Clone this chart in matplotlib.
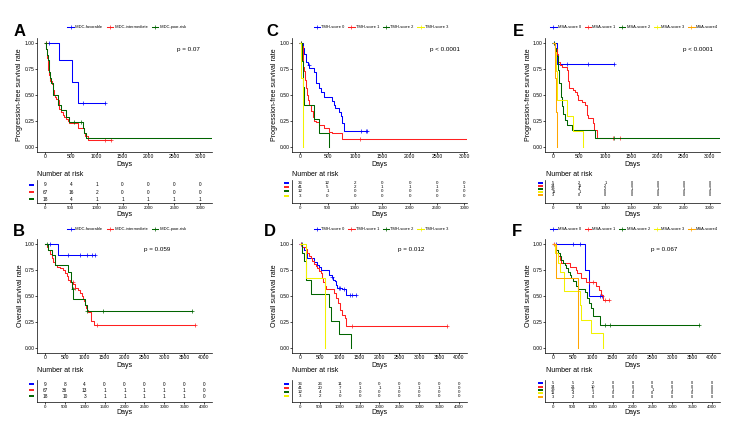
import numpy as np
import matplotlib
matplotlib.use("Agg")
import matplotlib.pyplot as plt
from matplotlib.lines import Line2D

# ---------------- data ----------------
imdc_labels = ["IMDC-favorable", "IMDC-intermediate", "IMDC-poor-risk"]
tmh_labels = ["TMH-score 0", "TMH-score 1", "TMH-score 2", "TMH-score 3"]
msa_labels = ["MSA-score 0", "MSA-score 1", "MSA-score 2", "MSA-score 3", "MSA-score4"]
pvals = ["p = 0.07", "p = 0.059", "p < 0.0001", "p = 0.012", "p < 0.0001", "p = 0.067"]
ticks_pfs = [0, 500, 1000, 1500, 2000, 2500, 3000]
ticks_os = [0, 500, 1000, 1500, 2000, 2500, 3000, 3500, 4000]
yticks = [0.0, 0.25, 0.5, 0.75, 1.0]
ytick_labels = ["0.00", "0.25", "0.50", "0.75", "1.00"]

# Panel A (PFS, IMDC)
a_fav_t = [0, 278, 517, 640]
a_fav_s = [1.0, 0.833, 0.625, 0.417]
a_fav_end, a_fav_cens = 1156, [84, 743, 1156]
a_int_t = [0, 19, 39, 65, 84, 103, 129, 149, 168, 194, 213, 245, 265, 278, 310, 342, 375, 407, 439, 472, 633, 749, 782, 827]
a_int_s = [1, 0.94, 0.86, 0.74, 0.69, 0.63, 0.60, 0.55, 0.50, 0.48, 0.46, 0.45, 0.39, 0.36, 0.33, 0.31, 0.29, 0.27, 0.25, 0.23, 0.18, 0.13, 0.10, 0.065]
a_int_end, a_int_cens = 1279, [10, 1156, 1279]
a_poor_t = [0, 15, 30, 50, 70, 90, 110, 150, 245, 310, 407, 470, 730, 760, 795]
a_poor_s = [1, 0.944, 0.889, 0.833, 0.722, 0.667, 0.611, 0.50, 0.40, 0.35, 0.29, 0.235, 0.18, 0.13, 0.08]
a_poor_end, a_poor_cens = 3300, [10, 560, 690]
a_risk = [[9, 4, 1, 0, 0, 0, 0], [67, 16, 2, 0, 0, 0, 0], [18, 4, 1, 1, 1, 1, 1]]

# Panel B (OS, IMDC)
b_fav_t = [0, 336]
b_fav_s = [1.0, 0.889]
b_fav_end, b_fav_cens = 1260, [126, 588, 882, 1067, 1176, 1260]
b_int_t = [0, 42, 84, 126, 168, 210, 252, 294, 380, 462, 504, 546, 588, 630, 714, 756, 840, 882, 924, 949, 983, 1008, 1033, 1067, 1092, 1151, 1243]
b_int_s = [1, 0.97, 0.94, 0.90, 0.86, 0.83, 0.80, 0.78, 0.765, 0.75, 0.72, 0.69, 0.65, 0.63, 0.61, 0.58, 0.56, 0.53, 0.50, 0.47, 0.45, 0.41, 0.38, 0.36, 0.34, 0.26, 0.22]
b_int_end, b_int_cens = 3780, [700, 760, 1300, 3780]
b_poor_t = [0, 84, 168, 260, 588, 647, 680, 710, 1008, 1050]
b_poor_s = [1, 0.944, 0.889, 0.80, 0.73, 0.63, 0.57, 0.47, 0.41, 0.354]
b_poor_end, b_poor_cens = 3700, [40, 700, 1050, 1470, 3700]
b_risk = [[9, 8, 4, 0, 0, 0, 0, 0, 0], [67, 36, 13, 1, 1, 1, 1, 1, 0], [18, 10, 3, 1, 1, 1, 1, 1, 0]]

# Panel C (PFS, TMH)
c_s0_t = [0, 42, 73, 103, 134, 164, 255, 285, 346, 376, 437, 589, 619, 637, 710, 740, 771, 801]
c_s0_s = [1, 0.95, 0.89, 0.82, 0.79, 0.76, 0.72, 0.61, 0.565, 0.53, 0.48, 0.44, 0.40, 0.37, 0.33, 0.30, 0.23, 0.155]
c_s0_end, c_s0_cens = 1226, [160, 1105, 1196, 1226]
c_s1_t = [0, 30, 42, 55, 73, 91, 109, 127, 146, 164, 194, 225, 255, 285, 346, 437, 528, 589, 771]
c_s1_s = [1, 0.97, 0.85, 0.77, 0.73, 0.645, 0.565, 0.50, 0.45, 0.40, 0.34, 0.29, 0.25, 0.24, 0.21, 0.18, 0.145, 0.13, 0.07]
c_s1_end, c_s1_cens = 3100, [20, 1093]
c_s2_t = [0, 40, 60, 73, 255, 346, 528]
c_s2_s = [1, 0.83, 0.58, 0.40, 0.27, 0.135, 0.0]
c_s2_end, c_s2_cens = 528, [10]
c_s3_t = [0, 15, 55]
c_s3_s = [1, 0.667, 0.0]
c_s3_end, c_s3_cens = 55, []
c_risk = [[36, 12, 2, 0, 0, 0, 0], [41, 5, 2, 1, 1, 1, 1], [12, 1, 0, 0, 0, 0, 0], [3, 0, 0, 0, 0, 0, 0]]

# Panel D (OS, TMH)
d_s0_t = [0, 59, 101, 143, 185, 352, 436, 478, 520, 730, 797, 831, 881, 915, 940, 1066, 1149, 1166]
d_s0_s = [1, 0.97, 0.944, 0.917, 0.86, 0.83, 0.80, 0.78, 0.75, 0.70, 0.685, 0.65, 0.64, 0.605, 0.58, 0.565, 0.54, 0.51]
d_s0_end, d_s0_cens = 1401, [30, 800, 980, 1000, 1100, 1250, 1300, 1401]
d_s1_t = [0, 59, 143, 185, 227, 268, 310, 352, 394, 436, 478, 520, 562, 587, 621, 646, 856, 898, 965, 1007, 1066, 1124, 1149]
d_s1_s = [1, 0.975, 0.95, 0.91, 0.885, 0.86, 0.835, 0.81, 0.79, 0.765, 0.74, 0.72, 0.675, 0.63, 0.59, 0.57, 0.525, 0.475, 0.43, 0.365, 0.315, 0.285, 0.21]
d_s1_end, d_s1_cens = 3708, [30, 1300, 3708]
d_s2_t = [0, 59, 101, 143, 268, 730, 780, 980, 1275]
d_s2_s = [1, 0.917, 0.833, 0.65, 0.52, 0.39, 0.26, 0.13, 0.0]
d_s2_end, d_s2_cens = 1275, [40]
d_s3_t = [0, 143, 629]
d_s3_s = [1, 0.667, 0.0]
d_s3_end, d_s3_cens = 629, []
d_risk = [[36, 26, 11, 0, 0, 0, 0, 0, 0], [41, 20, 7, 1, 1, 1, 1, 1, 0], [12, 4, 1, 0, 0, 0, 0, 0, 0], [3, 2, 0, 0, 0, 0, 0, 0, 0]]

# Panel E (PFS, MSA)
e_s0_t = [0, 64]
e_s0_s = [1, 0.8]
e_s0_end, e_s0_cens = 1161, [20, 255, 670, 1161]
e_s1_t = [0, 30, 64, 96, 128, 160, 255, 268, 287, 306, 370, 415, 459, 478, 542, 606, 638, 670, 753, 778, 842]
e_s1_s = [1, 0.94, 0.89, 0.82, 0.79, 0.77, 0.76, 0.74, 0.63, 0.57, 0.55, 0.53, 0.50, 0.45, 0.43, 0.40, 0.31, 0.28, 0.23, 0.16, 0.08]
e_s1_end, e_s1_cens = 1276, [1150, 1276]
e_s2_t = [0, 32, 51, 83, 108, 140, 172, 191, 223, 255, 351, 798]
e_s2_s = [1, 0.95, 0.87, 0.74, 0.61, 0.48, 0.39, 0.32, 0.26, 0.21, 0.16, 0.08]
e_s2_end, e_s2_cens = 3300, [10, 1161]
e_s3_t = [0, 30, 51, 77, 255, 383, 574]
e_s3_s = [1, 0.91, 0.73, 0.45, 0.30, 0.15, 0.0]
e_s3_end, e_s3_cens = 574, []
e_s4_t = [0, 40, 55, 70]
e_s4_s = [1, 0.667, 0.333, 0.0]
e_s4_end, e_s4_cens = 70, []
e_risk = [[5, 2, 1, 0, 0, 0, 0], [34, 11, 2, 0, 0, 0, 0], [39, 4, 2, 1, 1, 1, 1], [11, 1, 0, 0, 0, 0, 0], [3, 0, 0, 0, 0, 0, 0]]

# Panel F (OS, MSA)
f_s0_t = [0, 795, 904]
f_s0_s = [1, 0.75, 0.50]
f_s0_end, f_s0_cens = 1239, [84, 500, 670, 1172, 1239]
f_s1_t = [0, 42, 84, 126, 167, 209, 419, 569, 603, 711, 837, 1088, 1155, 1214, 1256]
f_s1_s = [1, 0.97, 0.94, 0.88, 0.845, 0.82, 0.78, 0.75, 0.72, 0.675, 0.63, 0.59, 0.555, 0.51, 0.46]
f_s1_end, f_s1_cens = 1406, [20, 900, 1000, 1300, 1406]
f_s2_t = [0, 42, 84, 126, 167, 209, 251, 293, 335, 377, 419, 460, 502, 569, 628, 795, 854, 904, 963, 1004, 1172]
f_s2_s = [1, 0.98, 0.94, 0.91, 0.88, 0.85, 0.82, 0.80, 0.77, 0.73, 0.70, 0.67, 0.64, 0.59, 0.57, 0.54, 0.48, 0.43, 0.38, 0.305, 0.22]
f_s2_end, f_s2_cens = 3683, [1297, 1423, 3683]
f_s3_t = [0, 50, 126, 184, 268, 670, 711, 963, 1255]
f_s3_s = [1, 0.91, 0.82, 0.727, 0.545, 0.41, 0.27, 0.14, 0.0]
f_s3_end, f_s3_cens = 1255, []
f_s4_t = [0, 84, 628]
f_s4_s = [1, 0.667, 0.0]
f_s4_end, f_s4_cens = 628, []
f_risk = [[5, 5, 2, 0, 0, 0, 0, 0, 0], [34, 21, 10, 0, 0, 0, 0, 0, 0], [39, 17, 5, 1, 1, 1, 1, 1, 0], [11, 4, 1, 0, 0, 0, 0, 0, 0], [3, 2, 0, 0, 0, 0, 0, 0, 0]]

# ---------------- style ----------------
COLORS = ["#0000FF", "#FF2020", "#006400", "#F2F200", "#FFA500"]
W, H = 738, 440
plt.rcParams['font.family'] = ['Liberation Sans', 'DejaVu Sans']
TICK_FS = 3.6
fig = plt.figure(figsize=(W / 100, H / 100), dpi=100)


def frect(l, t, r, b):
    return [l / W, 1 - b / H, (r - l) / W, (b - t) / H]


def fx(px):
    return px / W


def fy(py):
    return 1 - py / H


def surv_at(t, s, x):
    idx = np.searchsorted(np.array(t), np.array(x), side='right') - 1
    return np.array(s)[idx]


def style_axis(ax, fs=TICK_FS):
    for sp in ['top', 'right']:
        ax.spines[sp].set_visible(False)
    for sp in ['left', 'bottom']:
        ax.spines[sp].set_linewidth(0.5)
    ax.tick_params(length=1.2, width=0.5, labelsize=fs, pad=0.6)


def km_panel(box, curves, labels, xlim, xticks, ylabel, pval, pxy, letter, lxy, legend_xy):
    l, t, r, b = box
    ax = fig.add_axes(frect(l, t, r, b))
    for (tt, ss, end, cens), c in zip(curves, COLORS):
        xs = list(tt) + [end]
        ys = list(ss) + [ss[-1]]
        ax.step(xs, ys, where='post', color=c, lw=0.75)
        if cens:
            ax.plot(cens, surv_at(tt, ss, cens), ls='none', marker='+', ms=3, mew=0.5, color=c)
    ax.set_xlim(*xlim)
    ax.set_ylim(-0.05, 1.05)
    ax.set_xticks(xticks)
    ax.set_xticklabels([str(v) for v in xticks])
    ax.set_yticks(yticks)
    ax.set_yticklabels(ytick_labels)
    style_axis(ax)
    ax.set_xlabel("Days", fontsize=5)
    ax.xaxis.set_label_coords(0.5, -12.5 / (b - t))
    ax.xaxis.label.set_va('center')
    ax.set_ylabel(ylabel, fontsize=5)
    ax.yaxis.set_label_coords(-17 / (r - l), 0.5)
    ax.yaxis.label.set_va('center')
    fig.text(fx(pxy[0]), fy(pxy[1]), pval, fontsize=4.5, ha='center', va='center')
    fig.text(fx(lxy[0]), fy(lxy[1]), letter, fontsize=12, fontweight='bold', ha='center', va='center')
    handles = [Line2D([], [], color=c, lw=0.75, marker='+', ms=3, mew=0.5) for c in COLORS[:len(labels)]]
    fig.legend(handles, labels, loc='center', bbox_to_anchor=(fx(legend_xy[0]), fy(legend_xy[1])),
               ncol=len(labels), fontsize=2.9, frameon=False, handlelength=1.6, handletextpad=0.3,
               columnspacing=0.9, borderpad=0, borderaxespad=0)
    return ax


def risk_table(box, risk, xlim, xticks, rows_y, bar_x, title_xy, fs):
    l, t, r, b = box
    ax = fig.add_axes(frect(l, t, r, b))
    ax.set_xlim(*xlim)
    ax.set_ylim(b, t)
    ax.set_xticks(xticks)
    ax.set_xticklabels([str(v) for v in xticks])
    ax.set_yticks([])
    style_axis(ax, fs=3.2)
    for vals, ry, c in zip(risk, rows_y, COLORS):
        for xv, n in zip(xticks, vals):
            ax.text(xv, ry, str(n), fontsize=fs, ha='center', va='center')
        fig.add_artist(Line2D([fx(bar_x[0]), fx(bar_x[1])], [fy(ry), fy(ry)],
                              transform=fig.transFigure, color=c, lw=1.4, solid_capstyle='butt'))
    ax.set_xlabel("Days", fontsize=5)
    ax.xaxis.set_label_coords(0.5, -10.5 / (b - t))
    ax.xaxis.label.set_va('center')
    fig.text(fx(title_xy[0]), fy(title_xy[1]), "Number at risk", fontsize=5, ha='left', va='center')
    return ax


PFS = "Progression-free survival rate"
OS = "Overall survival rate"

# A
km_panel((37, 37.8, 212, 151.9),
         [(a_fav_t, a_fav_s, a_fav_end, a_fav_cens), (a_int_t, a_int_s, a_int_end, a_int_cens),
          (a_poor_t, a_poor_s, a_poor_end, a_poor_cens)],
         imdc_labels, (-155, 3230), ticks_pfs, PFS, pvals[0], (188, 49), "A", (20, 31), (127, 27))
risk_table((37, 180, 212, 203.5), a_risk, (-155, 3230), ticks_pfs, [184.7, 192.3, 199], (29.3, 34.3), (37, 174), 3.4)

# B
km_panel((37, 238.8, 212, 352.8),
         [(b_fav_t, b_fav_s, b_fav_end, b_fav_cens), (b_int_t, b_int_s, b_int_end, b_int_cens),
          (b_poor_t, b_poor_s, b_poor_end, b_poor_cens)],
         imdc_labels, (-200, 4200), ticks_os, OS, pvals[1], (157, 249), "B", (19, 232), (127, 229))
risk_table((37, 380, 212, 402), b_risk, (-200, 4200), ticks_os, [384, 390, 396], (29.3, 34.3), (37, 371), 3.4)

# C
km_panel((292, 37.8, 467, 151.9),
         [(c_s0_t, c_s0_s, c_s0_end, c_s0_cens), (c_s1_t, c_s1_s, c_s1_end, c_s1_cens),
          (c_s2_t, c_s2_s, c_s2_end, c_s2_cens), (c_s3_t, c_s3_s, c_s3_end, c_s3_cens)],
         tmh_labels, (-150, 3050), ticks_pfs, PFS, pvals[2], (445, 49), "C", (272, 31), (381, 27))
risk_table((292, 180, 467, 203.5), c_risk, (-150, 3050), ticks_pfs, [183.3, 187.3, 191.3, 195.7], (284, 288.5), (292, 174), 3.2)

# D
km_panel((292, 238.8, 467, 352.8),
         [(d_s0_t, d_s0_s, d_s0_end, d_s0_cens), (d_s1_t, d_s1_s, d_s1_end, d_s1_cens),
          (d_s2_t, d_s2_s, d_s2_end, d_s2_cens), (d_s3_t, d_s3_s, d_s3_end, d_s3_cens)],
         tmh_labels, (-200, 4200), ticks_os, OS, pvals[3], (411, 249), "D", (270, 232), (381, 229))
risk_table((292, 380, 467, 402), d_risk, (-200, 4200), ticks_os, [384, 388.3, 392, 396], (284, 288.5), (292, 371), 3.2)

# E
km_panel((545, 37.8, 720, 151.9),
         [(e_s0_t, e_s0_s, e_s0_end, e_s0_cens), (e_s1_t, e_s1_s, e_s1_end, e_s1_cens),
          (e_s2_t, e_s2_s, e_s2_end, e_s2_cens), (e_s3_t, e_s3_s, e_s3_end, e_s3_cens),
          (e_s4_t, e_s4_s, e_s4_end, e_s4_cens)],
         msa_labels, (-160, 3200), ticks_pfs, PFS, pvals[4], (698, 49), "E", (518, 31), (634, 27))
risk_table((545, 180, 720, 203.5), e_risk, (-160, 3200), ticks_pfs, [182.7, 185.7, 188.7, 191.7, 194.7], (538, 543), (546, 174), 2.9)

# F
km_panel((545, 238.8, 720, 352.8),
         [(f_s0_t, f_s0_s, f_s0_end, f_s0_cens), (f_s1_t, f_s1_s, f_s1_end, f_s1_cens),
          (f_s2_t, f_s2_s, f_s2_end, f_s2_cens), (f_s3_t, f_s3_s, f_s3_end, f_s3_cens),
          (f_s4_t, f_s4_s, f_s4_end, f_s4_cens)],
         msa_labels, (-200, 4200), ticks_os, OS, pvals[5], (664, 249), "F", (517, 232), (634, 229))
risk_table((545, 380, 720, 402), f_risk, (-200, 4200), ticks_os, [383.3, 386.7, 390, 393.3, 396.7], (538, 543), (546, 371), 2.9)

fig.savefig("out.png", dpi=100)
